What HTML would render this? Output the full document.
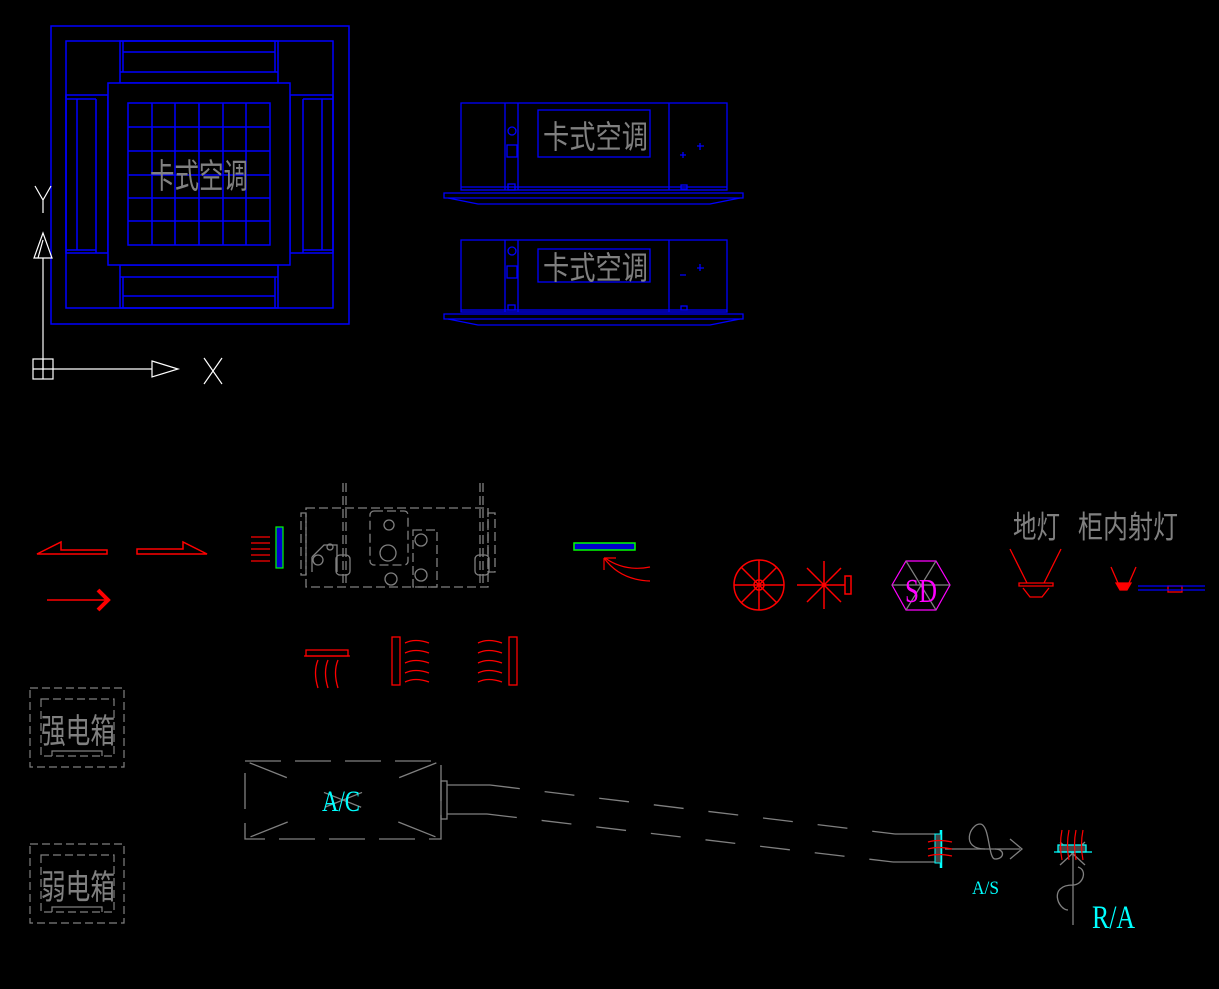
<!DOCTYPE html>
<html><head><meta charset="utf-8"><style>
html,body{margin:0;padding:0;background:#000;}
svg{display:block}
.s{font-family:"Liberation Sans","Noto Sans CJK SC",sans-serif;}
.f{font-family:"Liberation Serif",serif;}
</style></head><body>
<svg width="1219" height="989" viewBox="0 0 1219 989" xmlns="http://www.w3.org/2000/svg">
<rect width="1219" height="989" fill="#000"/>
<!-- cassette top view -->
<g fill="none" stroke="#0000ff" stroke-width="1.5">
<rect x="51" y="26" width="298" height="298"/>
<rect x="66" y="41" width="267" height="267"/>
<rect x="120" y="41" width="158" height="42"/>
<line x1="123" y1="41" x2="123" y2="72"/><line x1="275" y1="41" x2="275" y2="72"/>
<line x1="123" y1="52" x2="275" y2="52"/><line x1="120" y1="72" x2="278" y2="72"/>
<rect x="120" y="265" width="158" height="43"/>
<line x1="123" y1="277" x2="123" y2="308"/><line x1="275" y1="277" x2="275" y2="308"/>
<line x1="120" y1="277" x2="278" y2="277"/><line x1="123" y1="296" x2="275" y2="296"/>
<rect x="66" y="95" width="42" height="158"/>
<line x1="66" y1="99" x2="96" y2="99"/><line x1="66" y1="250" x2="96" y2="250"/>
<line x1="77" y1="99" x2="77" y2="250"/><line x1="96" y1="99" x2="96" y2="253"/>
<rect x="290" y="95" width="43" height="158"/>
<line x1="303" y1="99" x2="333" y2="99"/><line x1="303" y1="250" x2="333" y2="250"/>
<line x1="322" y1="99" x2="322" y2="250"/><line x1="303" y1="99" x2="303" y2="253"/>
<rect x="108" y="83" width="182" height="182" fill="#000"/>
<rect x="128" y="103" width="142" height="142"/>
<path d="M152 103V245M175 103V245M199 103V245M223 103V245M246 103V245M128 127H270M128 151H270M128 175H270M128 198H270M128 221H270"/>
</g>
<text class="s" x="150" y="188" font-size="34" fill="#808080" textLength="98" lengthAdjust="spacingAndGlyphs">卡式空调</text>
<!-- UCS -->
<g fill="none" stroke="#fff" stroke-width="1.2">
<path d="M35 186L43 200L51 186M43 200V213"/>
<line x1="43" y1="258" x2="43" y2="370"/>
<path d="M43 233L34 258H52Z"/><path d="M38 258L43 240"/>
<rect x="33" y="359" width="20" height="20"/><line x1="33" y1="369" x2="53" y2="369"/><line x1="43" y1="359" x2="43" y2="379"/>
<line x1="53" y1="369" x2="152" y2="369"/>
<path d="M152 361L178 369L152 377Z"/>
<path d="M204 358L222 384M222 358L204 384"/>
</g>
<!-- side views -->
<g fill="none" stroke="#0000ff" stroke-width="1.3">
<rect x="461" y="103" width="266" height="87"/>
<line x1="505" y1="103" x2="505" y2="190"/><line x1="518" y1="103" x2="518" y2="190"/><line x1="669" y1="103" x2="669" y2="190"/>
<line x1="461" y1="187" x2="727" y2="187"/>
<rect x="538" y="110" width="112" height="47"/>
<circle cx="512" cy="131" r="4"/><rect x="507" y="145" width="10" height="12"/><rect x="508" y="184" width="7" height="6"/><rect x="681" y="185" width="6" height="4"/>
<path d="M444 193H743V198H444Z"/><path d="M448 198L478 204H710L740 198"/>
<rect x="461" y="240" width="266" height="72"/>
<line x1="505" y1="240" x2="505" y2="312"/><line x1="518" y1="240" x2="518" y2="312"/><line x1="669" y1="240" x2="669" y2="312"/>
<line x1="461" y1="310" x2="727" y2="310"/>
<rect x="538" y="249" width="112" height="33"/>
<circle cx="512" cy="251" r="4"/><rect x="507" y="266" width="10" height="12"/><rect x="508" y="305" width="7" height="5"/><rect x="681" y="306" width="6" height="4"/>
<path d="M444 314H743V319H444Z"/><path d="M448 319L478 325H710L740 319"/>
<path d="M680 155h6M683 152v6M697 146h7M700 143v7M680 275h6M697 268h7M700 264v7"/>
</g>
<text class="s" x="543" y="148" font-size="32" fill="#808080" textLength="105" lengthAdjust="spacingAndGlyphs">卡式空调</text>
<text class="s" x="543" y="279" font-size="32" fill="#808080" textLength="105" lengthAdjust="spacingAndGlyphs">卡式空调</text>
<!-- red arrows -->
<g fill="none" stroke="#ff0000" stroke-width="1.5">
<path d="M37 554L61 542V550H107V554Z"/>
<path d="M137 549H183V542L207 554H137Z"/>
<line x1="47" y1="600" x2="105" y2="600"/>
</g>
<path d="M98 590L108 600L98 610" fill="none" stroke="#ff0000" stroke-width="4"/>
<!-- grille with arrows -->
<rect x="276" y="527" width="7" height="41" fill="#0000cc" stroke="#00ff00" stroke-width="1.2"/>
<g stroke="#ff0000" stroke-width="1.2"><path d="M251 537H270M251 543H270M251 549H270M251 555H270M251 561H270"/></g>
<!-- fan coil -->
<g fill="none" stroke="#808080" stroke-width="1.3" stroke-dasharray="9,4">
<rect x="306" y="508" width="182" height="79"/>
<path d="M343 483V587M346 483V587M480 483V587M483 483V587"/>
<rect x="370" y="511" width="38" height="54" rx="4"/>
<rect x="413" y="530" width="24" height="57"/>
<path d="M301 513H306V575H301ZM488 513H495V572H488Z"/>
</g>
<g fill="none" stroke="#808080" stroke-width="1.3">
<circle cx="389" cy="525" r="5"/><circle cx="388" cy="553" r="8"/><circle cx="391" cy="579" r="6"/>
<circle cx="421" cy="540" r="6"/><circle cx="421" cy="575" r="6"/>
<circle cx="318" cy="560" r="5"/><circle cx="330" cy="547" r="3"/>
<rect x="336" y="555" width="14" height="20" rx="4"/><rect x="475" y="555" width="14" height="20" rx="4"/>
<path d="M312 572V557M312 557L324 545H337V572"/>
</g>
<!-- green grille with red curve arrow -->
<rect x="574" y="543" width="61" height="7" fill="#0000cc" stroke="#00ff00" stroke-width="1.5"/>
<g fill="none" stroke="#ff0000" stroke-width="1.2"><path d="M650 567Q625 572 605 558M650 581Q620 580 604 558M604 558L604 570M604 558L616 558"/></g>
<!-- heaters -->
<g fill="none" stroke="#ff0000" stroke-width="1.3">
<rect x="306" y="650" width="42" height="6"/><line x1="304" y1="656" x2="350" y2="656"/>
<path d="M318 660q-5 12 0 28M328 660q-5 12 0 28M338 660q-5 12 0 28"/>
<rect x="392" y="637" width="8" height="48"/>
<path d="M405 643q10 -5 24 0M405 653q10 -5 24 0M405 663q10 -5 24 0M405 673q10 -5 24 0M405 682q10 -5 24 0"/>
<rect x="509" y="637" width="8" height="48"/>
<path d="M478 643q10 -5 24 0M478 653q10 -5 24 0M478 663q10 -5 24 0M478 673q10 -5 24 0M478 682q10 -5 24 0"/>
</g>
<!-- fans -->
<g fill="none" stroke="#ff0000" stroke-width="1.5">
<circle cx="759" cy="585" r="25"/><circle cx="759" cy="585" r="5"/>
<path d="M759 560V610M734 585H784M741 567L777 603M777 567L741 603"/>
<path d="M797 585H845M824 561V609M807 568L841 602M841 568L807 602"/>
<rect x="845" y="576" width="6" height="18"/>
</g>
<!-- SD -->
<g fill="none" stroke-width="1.2">
<path d="M892 585L906 561H936L950 585L936 610H906Z" stroke="#ff00ff"/>
<path d="M892 585H950M906 561L936 610M936 561L906 610" stroke="#808080"/>
</g>
<text class="f" x="905" y="602" font-size="34" fill="#ff00ff" textLength="32" lengthAdjust="spacingAndGlyphs">SD</text>
<!-- lamps -->
<text class="s" x="1013" y="538" font-size="31" fill="#808080" textLength="47" lengthAdjust="spacingAndGlyphs">地灯</text>
<text class="s" x="1078" y="538" font-size="31" fill="#808080" textLength="100" lengthAdjust="spacingAndGlyphs">柜内射灯</text>
<g fill="none" stroke="#ff0000" stroke-width="1.3">
<path d="M1010 549L1027 583M1061 549L1044 583"/>
<path d="M1019 583H1053V586H1019Z"/><path d="M1023 588L1030 597H1042L1049 588"/>
<path d="M1111 567L1118 583M1136 567L1129 583"/>
<path d="M1116 583H1131L1127 590H1120Z" fill="#ff0000"/>
<rect x="1168" y="586" width="14" height="6"/>
</g>
<path d="M1138 586H1205M1138 590H1205" stroke="#0000ff" stroke-width="1.2"/>
<!-- boxes -->
<g fill="none" stroke="#808080" stroke-width="1.2" stroke-dasharray="8,4">
<rect x="30" y="688" width="94" height="79"/><rect x="41" y="699" width="73" height="57"/>
<rect x="30" y="844" width="94" height="79"/><rect x="41" y="855" width="73" height="57"/>
</g>
<g stroke="#808080" fill="none" stroke-width="1.2"><path d="M52 756V751H102V756M52 912V907H102V912"/></g>
<text class="s" x="41" y="743" font-size="34" fill="#808080" textLength="74" lengthAdjust="spacingAndGlyphs">强电箱</text>
<text class="s" x="41" y="899" font-size="34" fill="#808080" textLength="74" lengthAdjust="spacingAndGlyphs">弱电箱</text>
<!-- A/C duct -->
<g fill="none" stroke="#808080" stroke-width="1.3">
<rect x="245" y="761" width="196" height="78" stroke-dasharray="36,14"/>
<path d="M245 761L441 839M441 761L245 839" stroke-dasharray="40,40" stroke-dashoffset="-5"/>
<rect x="441" y="781" width="6" height="38"/>
<path d="M447 785H490"/><path d="M490 785L895 834" stroke-dasharray="30,25"/><path d="M895 834H935"/>
<path d="M447 814H487"/><path d="M487 814L893 862" stroke-dasharray="30,25"/><path d="M893 862H935"/>
<path d="M945 849H1020M1010 839L1022 849L1010 859"/>
<path d="M985 849c-25 0 -15 -25 -5 -25c10 0 8 35 15 35c10 0 10 -10 0 -10"/>
<path d="M1073 852V925M1073 885c-25 0 -15 25 -5 25M1073 885c10 0 15 -15 5 -18"/>
<path d="M1060 865L1085 842M1060 842L1085 865"/>
</g>
<line x1="941" y1="830" x2="941" y2="868" stroke="#00ffff" stroke-width="2.5"/>
<rect x="935" y="834" width="6" height="29" fill="#444" stroke="#00ffff" stroke-width="1"/>
<g stroke="#ff0000" stroke-width="1.2" fill="none"><path d="M928 842q10 -3 24 0M928 849q10 -3 24 0M928 856q10 -3 24 0"/></g>
<rect x="1058" y="845" width="28" height="7" fill="#444" stroke="#00ffff" stroke-width="1.3"/>
<line x1="1054" y1="852" x2="1092" y2="852" stroke="#00ffff" stroke-width="1.3"/>
<g stroke="#ff0000" stroke-width="1.2" fill="none"><path d="M1062 860q-3 -15 0 -30M1069 860q-3 -15 0 -30M1076 860q-3 -15 0 -30M1083 860q-3 -15 0 -30"/></g>
<text class="f" x="322" y="811" font-size="30" fill="#00ffff" textLength="38" lengthAdjust="spacingAndGlyphs">A/C</text>
<text class="f" x="972" y="894" font-size="19" fill="#00ffff" textLength="27" lengthAdjust="spacingAndGlyphs">A/S</text>
<text class="f" x="1092" y="928" font-size="33" fill="#00ffff" textLength="43" lengthAdjust="spacingAndGlyphs">R/A</text>
</svg>
</body></html>
